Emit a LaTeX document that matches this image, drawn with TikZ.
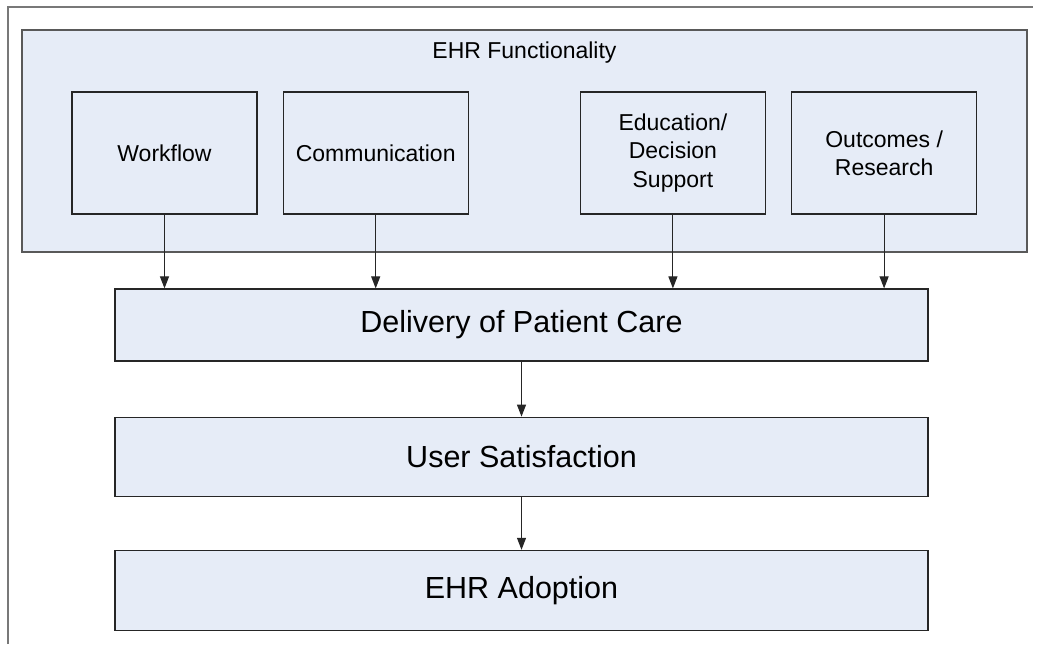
\documentclass[tikz,border=0pt]{standalone}
\usepackage{fontspec}
\setmainfont{Liberation Sans}
\usepackage{tikz}
\usetikzlibrary{arrows.meta,positioning}

\definecolor{ehrblue}{RGB}{230,236,247}
\definecolor{framegray}{RGB}{120,120,120}

\begin{document}
\begin{tikzpicture}[x=0.5pt, y=-0.5pt, >={Triangle[length=6pt,width=4.5pt]},
    panel/.style={draw=black!65, line width=0.7pt, fill=ehrblue, minimum width=502.5pt, minimum height=111pt, inner sep=0pt},
    func/.style={draw=black!85, line width=0.6pt, fill=ehrblue, minimum width=92.5pt, minimum height=61pt, inner sep=0pt, align=center, font=\fontsize{11.5}{14.2}\selectfont},
    stage/.style={draw=black!85, line width=0.6pt, fill=ehrblue, minimum width=406.5pt, inner sep=0pt, font=\fontsize{15.25}{18}\selectfont},
    link/.style={->, draw=black!85, line width=0.55pt}]
    \useasboundingbox (0,0) rectangle (1042,644);
    % Frame
    \draw [framegray, line width=1pt] (8,644) -- (8,7) -- (1033,7);

    % Functionality panel and its boxes
    \node [panel] 		(ehr) 	at (524.5,141) 	{};
    \node [anchor=base, font=\fontsize{11.5}{14}\selectfont] (title) at (524.5,58) {EHR Functionality};
    \node [func] 		(wf) 	at (164.5,153) 			{Workflow};
    \node [func] 		(comm) 	[right=12.5pt of wf] 	{Communication};
    \node [func] 		(edu) 	[right=55.5pt of comm] 	{Education/\\Decision\\Support};
    \node [func] 		(out) 	[right=12.5pt of edu] 	{Outcomes /\\Research};

    % Stages
    \node [stage, minimum height=36pt] 	(care) 	at (521.5,325) 			{Delivery of Patient Care};
    \node [stage, minimum height=39.5pt] 	(user) 	[below=27.5pt of care] 	{User Satisfaction};
    \node [stage, minimum height=40pt] 	(adopt) [below=26.5pt of user] 	{EHR Adoption};

    % Paths
    \draw [link] 	(wf) 	-- (wf |- care.north);
    \draw [link] 	(comm) 	-- (comm |- care.north);
    \draw [link] 	(edu) 	-- (edu |- care.north);
    \draw [link] 	(out) 	-- (out |- care.north);
    \draw [link] 	(care) 	-- (user);
    \draw [link] 	(user) 	-- (adopt);

\end{tikzpicture}
\end{document}
